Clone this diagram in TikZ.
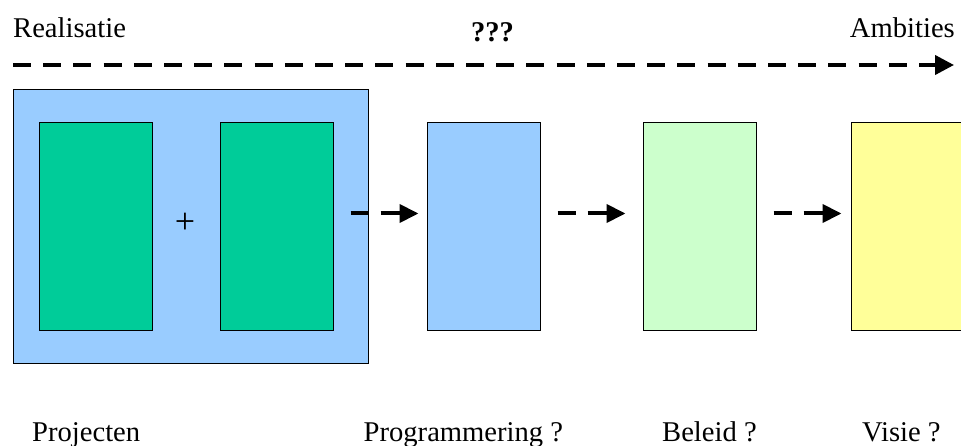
\documentclass[tikz,border=0pt]{standalone}
\usepackage{fontspec}
\setmainfont{Liberation Serif}
\usetikzlibrary{arrows.meta}

\definecolor{paleblue}{HTML}{99CCFF}
\definecolor{seagreen}{HTML}{00CC99}
\definecolor{mintgreen}{HTML}{CCFFCC}
\definecolor{paleyellow}{HTML}{FFFF99}

\begin{document}
\begin{tikzpicture}[x=1pt,y=1pt,
  txt/.style={inner sep=0pt, font=\fontsize{28.6}{34}\selectfont},
  panel/.style={draw=black, line width=1pt, inner sep=0pt, minimum width=113pt, minimum height=207pt},
  flow/.style={line width=4pt, dash pattern=on 18pt off 12pt on 30pt off 12pt,
               -{Triangle[length=19pt,width=18pt]}},
  mainflow/.style={line width=4pt, dash pattern=on 18pt off 12.2pt,
               -{Triangle[length=19pt,width=19pt]}}]
\useasboundingbox (0,0) rectangle (961,-446);

% headings
\node[txt, anchor=base west] (realisatie) at (13,-38) {Realisatie};
\node[txt, anchor=base east] (ambities) at (955,-38) {Ambities};
\node[txt, anchor=base, font=\fontsize{28.6}{34}\selectfont\bfseries] (vraag) at (492.5,-42) {???};

% long dashed arrow
\coordinate (startline) at (13,-65);
\coordinate (endline) at (954,-65);
\draw[mainflow] (startline) -- (endline);

% projects block
\node[draw=black, line width=1pt, fill=paleblue, inner sep=0pt,
      minimum width=355pt, minimum height=274pt] (outer) at (190.5,-226.5) {};
\node[panel, fill=seagreen] (projA) at (95.5,-226.5) {};
\node[panel, fill=seagreen] (projB) at (276.5,-226.5) {};
\node[inner sep=0pt, font=\fontsize{36}{40}\selectfont] (plus) at (185,-223) {+};

% stages
\node[panel, fill=paleblue] (prog) at (483.5,-226.5) {};
\node[panel, fill=mintgreen] (bel) at (699.5,-226.5) {};
\node[panel, fill=paleyellow] (vis) at (907.5,-226.5) {};

% short arrows between stages
\draw[flow] ([shift={(-18pt,13pt)}]outer.east) -- ([shift={(-8pt,13pt)}]prog.west);
\draw[flow] ([shift={(17pt,13pt)}]prog.east) -- ([shift={(-17pt,13pt)}]bel.west);
\draw[flow] ([shift={(17pt,13pt)}]bel.east) -- ([shift={(-9pt,13pt)}]vis.west);

% bottom labels
\node[txt, anchor=base west] (lproj) at (32,-441) {Projecten};
\node[txt, anchor=base west] (lprog) at (363.5,-441) {Programmering ?};
\node[txt, anchor=base west] (lbel) at (662,-441) {Beleid ?};
\node[txt, anchor=base west] (lvis) at (862,-441) {Visie ?};
\end{tikzpicture}
\end{document}
